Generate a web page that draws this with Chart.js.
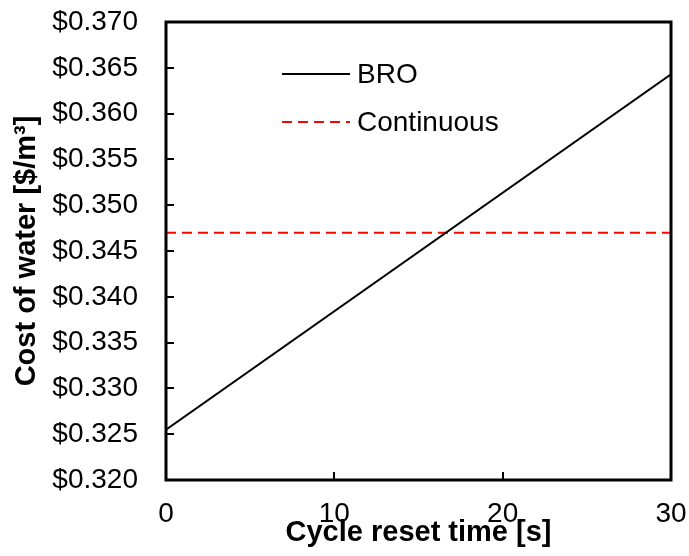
<!DOCTYPE html>
<html>
<head>
<meta charset="utf-8">
<script src="https://cdn.jsdelivr.net/npm/chart.js@4"></script>
<style>
  html,body{margin:0;padding:0;background:#fff;}
  #wrap{width:689px;height:556px;}
</style>
</head>
<body>
<div id="wrap"><canvas id="c" width="689" height="556"></canvas></div>
<script>
// data
const cycleTimes = [0, 30];
const broCost = [0.3255, 0.3643];
const contCost = [0.347, 0.347];
const xTicks = [0, 10, 20, 30];
const yMin = 0.320, yMax = 0.370, yStep = 0.005;

const FONT = '"Liberation Sans", Arial, sans-serif';

// frame + inward ticks + legend
const frame = {
  id:'frame',
  afterDraw(chart){
    const {ctx, chartArea:a, scales:{x,y}} = chart;
    ctx.save();
    ctx.strokeStyle = '#000';
    ctx.lineWidth = 2;
    y.ticks.forEach(t=>{
      const py = Math.round(y.getPixelForValue(t.value));
      ctx.beginPath(); ctx.moveTo(a.left, py); ctx.lineTo(a.left+8, py); ctx.stroke();
    });
    x.ticks.forEach(t=>{
      const px = Math.round(x.getPixelForValue(t.value));
      ctx.beginPath(); ctx.moveTo(px, a.bottom); ctx.lineTo(px, a.bottom-8); ctx.stroke();
    });
    ctx.lineWidth = 3;
    ctx.strokeRect(a.left, a.top, a.right-a.left, a.bottom-a.top);

    // legend
    ctx.font = '28px '+FONT;
    ctx.textBaseline = 'middle';
    ctx.fillStyle = '#000';
    chart.data.datasets.forEach((ds,i)=>{
      const ly = 74 + i*48;
      ctx.strokeStyle = ds.borderColor;
      ctx.lineWidth = 2;
      ctx.setLineDash(ds.borderDash || []);
      ctx.beginPath(); ctx.moveTo(282, ly); ctx.lineTo(350, ly); ctx.stroke();
      ctx.setLineDash([]);
      ctx.fillText(ds.label, 357, ly+1);
    });
    ctx.restore();
  }
};

new Chart(document.getElementById('c'), {
  type:'line',
  data:{
    datasets:[
      {label:'BRO', data:cycleTimes.map((v,i)=>({x:v,y:broCost[i]})), borderColor:'#000', borderWidth:2, pointRadius:0, tension:0},
      {label:'Continuous', data:cycleTimes.map((v,i)=>({x:v,y:contCost[i]})), borderColor:'#ff0000', borderWidth:2, borderDash:[10,6], pointRadius:0, tension:0}
    ]
  },
  options:{
    responsive:false, animation:false,
    layout:{padding:{top:22,right:18,left:0,bottom:0}},
    plugins:{legend:{display:false}, tooltip:{enabled:false}},
    scales:{
      x:{
        type:'linear', min:0, max:30,
        afterBuildTicks:(s)=>{ s.ticks = xTicks.map(v=>({value:v})); },
        afterFit:(s)=>{ s.height = 76; s.paddingLeft = 0; s.paddingRight = 0; },
        grid:{display:false, drawTicks:false},
        border:{display:false},
        ticks:{color:'#000', padding:17, maxRotation:0, font:{family:FONT, size:28}},
        title:{display:true, text:'Cycle reset time [s]', color:'#000', padding:{top:0,bottom:6}, font:{family:FONT, size:29, weight:'bold'}}
      },
      y:{
        min:yMin, max:yMax,
        ticks:{stepSize:yStep, color:'#000', padding:28, font:{family:FONT, size:28},
          callback:(v)=>'$'+Number(v).toFixed(3)},
        afterFit:(s)=>{ s.width = 166; s.paddingTop = 0; s.paddingBottom = 0; },
        grid:{display:false, drawTicks:false},
        border:{display:false},
        title:{display:true, text:'Cost of water [$/m³]', color:'#000', padding:{top:10,bottom:0}, font:{family:FONT, size:29, weight:'bold'}}
      }
    }
  },
  plugins:[frame]
});
</script>
</body>
</html>
